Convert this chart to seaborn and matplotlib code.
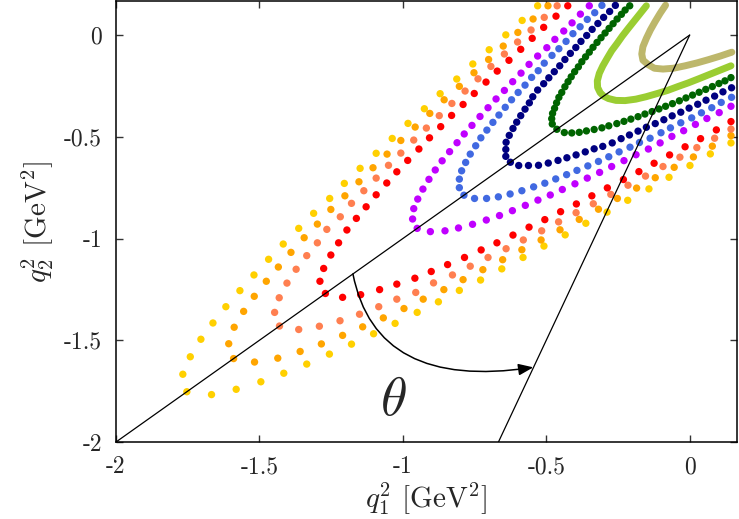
import numpy as np
import pandas as pd
import matplotlib
matplotlib.use("Agg")
import matplotlib.pyplot as plt
import seaborn as sns
from matplotlib.path import Path
from matplotlib.patches import FancyArrowPatch

# ---------------- data ----------------
# each curve: q1^2, q2^2 values from the upper-left end, through the vertex on the
# diagonal, to the lower-right end (the picture is symmetric under q1^2 <-> q2^2)
gold_q1 = [-0.530,-0.584,-0.641,-0.699,-0.756,-0.812,-0.870,-0.925,-0.982,-1.037,-1.093,-1.149,-1.204,-1.255,-1.311,-1.363,-1.417,-1.468,-1.519,-1.568,-1.617,-1.662,-1.704,-1.741,-1.767,
           -1.753,
           -1.667,-1.581,-1.495,-1.415,-1.335,-1.256,-1.179,-1.102,-1.027,-0.950,-0.876,-0.803,-0.729,-0.655,-0.581,-0.508,-0.434,-0.362,-0.288,-0.216,-0.142,-0.072,0.001,0.072,0.144]
gold_q2 = [0.144,0.072,0.001,-0.072,-0.142,-0.216,-0.288,-0.362,-0.434,-0.508,-0.581,-0.655,-0.729,-0.803,-0.876,-0.950,-1.027,-1.102,-1.179,-1.256,-1.335,-1.415,-1.495,-1.581,-1.667,
           -1.753,
           -1.767,-1.741,-1.704,-1.662,-1.617,-1.568,-1.519,-1.468,-1.417,-1.363,-1.311,-1.255,-1.204,-1.149,-1.093,-1.037,-0.982,-0.925,-0.870,-0.812,-0.756,-0.699,-0.641,-0.584,-0.530]

orange_q1 = [-0.494,-0.546,-0.599,-0.650,-0.701,-0.752,-0.803,-0.856,-0.906,-0.957,-1.007,-1.055,-1.104,-1.153,-1.202,-1.251,-1.298,-1.344,-1.390,-1.434,-1.476,-1.518,-1.555,-1.588,-1.607,
             -1.590,
             -1.517,-1.436,-1.358,-1.284,-1.210,-1.140,-1.068,-0.996,-0.929,-0.857,-0.790,-0.721,-0.652,-0.585,-0.518,-0.452,-0.385,-0.318,-0.252,-0.185,-0.120,-0.054,0.013,0.079,0.144]
orange_q2 = [0.144,0.079,0.013,-0.054,-0.120,-0.185,-0.252,-0.318,-0.385,-0.452,-0.518,-0.585,-0.652,-0.721,-0.790,-0.857,-0.929,-0.996,-1.068,-1.140,-1.210,-1.284,-1.358,-1.436,-1.517,
             -1.590,
             -1.607,-1.588,-1.555,-1.518,-1.476,-1.434,-1.390,-1.344,-1.298,-1.251,-1.202,-1.153,-1.104,-1.055,-1.007,-0.957,-0.906,-0.856,-0.803,-0.752,-0.701,-0.650,-0.599,-0.546,-0.494]

coral_q1 = [-0.462,-0.507,-0.553,-0.600,-0.646,-0.693,-0.738,-0.783,-0.829,-0.873,-0.918,-0.962,-1.007,-1.050,-1.093,-1.136,-1.179,-1.218,-1.265,-1.298,-1.335,-1.372,-1.404,-1.431,-1.447,
            -1.430,
            -1.363,-1.291,-1.219,-1.151,-1.084,-1.021,-0.955,-0.893,-0.827,-0.765,-0.703,-0.640,-0.580,-0.516,-0.457,-0.396,-0.336,-0.275,-0.215,-0.154,-0.093,-0.034,0.025,0.087,0.144]
coral_q2 = [0.144,0.087,0.025,-0.034,-0.093,-0.154,-0.215,-0.275,-0.336,-0.396,-0.457,-0.516,-0.580,-0.640,-0.703,-0.765,-0.827,-0.893,-0.955,-1.021,-1.084,-1.151,-1.219,-1.291,-1.363,
            -1.430,
            -1.447,-1.431,-1.404,-1.372,-1.335,-1.298,-1.265,-1.218,-1.179,-1.136,-1.093,-1.050,-1.007,-0.962,-0.918,-0.873,-0.829,-0.783,-0.738,-0.693,-0.646,-0.600,-0.553,-0.507,-0.462]

red_q1 = [-0.425,-0.466,-0.509,-0.549,-0.589,-0.630,-0.671,-0.710,-0.751,-0.790,-0.830,-0.868,-0.907,-0.944,-0.983,-1.021,-1.056,-1.093,-1.128,-1.162,-1.195,-1.224,-1.251,-1.276,-1.289,
          -1.270,
          -1.210,-1.147,-1.081,-1.021,-0.958,-0.901,-0.844,-0.785,-0.727,-0.672,-0.616,-0.560,-0.505,-0.450,-0.395,-0.341,-0.287,-0.231,-0.177,-0.124,-0.070,-0.016,0.038,0.093,0.144]
red_q2 = [0.144,0.093,0.038,-0.016,-0.070,-0.124,-0.177,-0.231,-0.287,-0.341,-0.395,-0.450,-0.505,-0.560,-0.616,-0.672,-0.727,-0.785,-0.844,-0.901,-0.958,-1.021,-1.081,-1.147,-1.210,
          -1.270,
          -1.289,-1.276,-1.251,-1.224,-1.195,-1.162,-1.128,-1.093,-1.056,-1.021,-0.983,-0.944,-0.907,-0.868,-0.830,-0.790,-0.751,-0.710,-0.671,-0.630,-0.589,-0.549,-0.509,-0.466,-0.425]

violet_q1 = [-0.350,-0.381,-0.410,-0.439,-0.470,-0.498,-0.530,-0.560,-0.588,-0.617,-0.646,-0.675,-0.703,-0.731,-0.759,-0.786,-0.811,-0.837,-0.863,-0.887,-0.909,-0.930,-0.948,-0.962,-0.966,
             -0.950,
             -0.904,-0.853,-0.806,-0.757,-0.709,-0.663,-0.618,-0.573,-0.529,-0.486,-0.444,-0.400,-0.357,-0.314,-0.272,-0.229,-0.187,-0.144,-0.103,-0.062,-0.021,0.020,0.060,0.103,0.144]
violet_q2 = [0.144,0.103,0.060,0.020,-0.021,-0.062,-0.103,-0.144,-0.187,-0.229,-0.272,-0.314,-0.357,-0.400,-0.444,-0.486,-0.529,-0.573,-0.618,-0.663,-0.709,-0.757,-0.806,-0.853,-0.904,
             -0.950,
             -0.966,-0.962,-0.948,-0.930,-0.909,-0.887,-0.863,-0.837,-0.811,-0.786,-0.759,-0.731,-0.703,-0.675,-0.646,-0.617,-0.588,-0.560,-0.530,-0.498,-0.470,-0.439,-0.410,-0.381,-0.350]

blue_q1 = [-0.306,-0.331,-0.357,-0.382,-0.407,-0.431,-0.456,-0.480,-0.507,-0.528,-0.551,-0.574,-0.598,-0.621,-0.643,-0.665,-0.686,-0.707,-0.728,-0.746,-0.765,-0.781,-0.795,-0.803,-0.803,
           -0.787,
           -0.750,-0.708,-0.667,-0.626,-0.585,-0.544,-0.505,-0.467,-0.429,-0.393,-0.355,-0.318,-0.282,-0.246,-0.208,-0.175,-0.138,-0.100,-0.067,-0.031,0.007,0.041,0.077,0.110,0.146]
blue_q2 = [0.146,0.110,0.077,0.041,0.007,-0.031,-0.067,-0.100,-0.138,-0.175,-0.208,-0.246,-0.282,-0.318,-0.355,-0.393,-0.429,-0.467,-0.505,-0.544,-0.585,-0.626,-0.667,-0.708,-0.750,
           -0.787,
           -0.803,-0.803,-0.795,-0.781,-0.765,-0.746,-0.728,-0.707,-0.686,-0.665,-0.643,-0.621,-0.598,-0.574,-0.551,-0.528,-0.507,-0.480,-0.456,-0.431,-0.407,-0.382,-0.357,-0.331,-0.306]

navy_q1 = [-0.259,-0.279,-0.300,-0.320,-0.340,-0.359,-0.379,-0.397,-0.416,-0.435,-0.453,-0.472,-0.491,-0.509,-0.530,-0.547,-0.559,-0.574,-0.589,-0.603,-0.616,-0.629,-0.640,-0.641,-0.641,
           -0.625,
           -0.596,-0.562,-0.527,-0.493,-0.459,-0.428,-0.396,-0.364,-0.333,-0.303,-0.270,-0.239,-0.210,-0.180,-0.151,-0.120,-0.090,-0.061,-0.031,-0.002,0.028,0.057,0.087,0.116,0.146]
navy_q2 = [0.146,0.116,0.087,0.057,0.028,-0.002,-0.031,-0.061,-0.090,-0.120,-0.151,-0.180,-0.210,-0.239,-0.270,-0.303,-0.333,-0.364,-0.396,-0.428,-0.459,-0.493,-0.527,-0.562,-0.596,
           -0.625,
           -0.641,-0.641,-0.640,-0.629,-0.616,-0.603,-0.589,-0.574,-0.559,-0.547,-0.530,-0.509,-0.491,-0.472,-0.453,-0.435,-0.416,-0.397,-0.379,-0.359,-0.340,-0.320,-0.300,-0.279,-0.259]

green_q1 = [-0.209,-0.225,-0.238,-0.253,-0.267,-0.281,-0.295,-0.309,-0.323,-0.337,-0.350,-0.363,-0.376,-0.388,-0.401,-0.413,-0.424,-0.435,-0.446,-0.456,-0.464,-0.471,-0.478,-0.481,-0.479,
            -0.463,
            -0.437,-0.411,-0.385,-0.360,-0.333,-0.306,-0.282,-0.254,-0.229,-0.205,-0.180,-0.156,-0.131,-0.107,-0.084,-0.060,-0.036,-0.013,0.010,0.033,0.056,0.079,0.102,0.123,0.144]
green_q2 = [0.144,0.123,0.102,0.079,0.056,0.033,0.010,-0.013,-0.036,-0.060,-0.084,-0.107,-0.131,-0.156,-0.180,-0.205,-0.229,-0.254,-0.282,-0.306,-0.333,-0.360,-0.385,-0.411,-0.437,
            -0.463,
            -0.479,-0.481,-0.478,-0.471,-0.464,-0.456,-0.446,-0.435,-0.424,-0.413,-0.401,-0.388,-0.376,-0.363,-0.350,-0.337,-0.323,-0.309,-0.295,-0.281,-0.267,-0.253,-0.238,-0.225,-0.209]

lime_q1 = [-0.151,-0.172,-0.193,-0.214,-0.235,-0.253,-0.272,-0.288,-0.303,-0.315,-0.322,-0.321,-0.312,
           -0.300,
           -0.283,-0.257,-0.225,-0.188,-0.152,-0.115,-0.077,-0.041,-0.005,0.033,0.070,0.107,0.144]
lime_q2 = [0.144,0.107,0.070,0.033,-0.005,-0.041,-0.077,-0.115,-0.152,-0.188,-0.225,-0.257,-0.283,
           -0.300,
           -0.312,-0.321,-0.322,-0.315,-0.303,-0.288,-0.272,-0.253,-0.235,-0.214,-0.193,-0.172,-0.151]

khaki_q1 = [-0.084,-0.103,-0.121,-0.137,-0.151,-0.163,-0.167,-0.163,
            -0.145,
            -0.123,-0.093,-0.057,-0.016,0.025,0.065,0.107,0.147]
khaki_q2 = [0.147,0.107,0.065,0.025,-0.016,-0.057,-0.093,-0.123,
            -0.145,
            -0.163,-0.167,-0.163,-0.151,-0.137,-0.121,-0.103,-0.084]

dotted_series = {
    "gold": (gold_q1, gold_q2),
    "orange": (orange_q1, orange_q2),
    "coral": (coral_q1, coral_q2),
    "red": (red_q1, red_q2),
    "violet": (violet_q1, violet_q2),
    "blue": (blue_q1, blue_q2),
    "navy": (navy_q1, navy_q2),
    "green": (green_q1, green_q2),
}
dense_series = {
    "lime": (lime_q1, lime_q2),
    "khaki": (khaki_q1, khaki_q2),
}
palette = {
    "gold": "#FFD000", "orange": "#FFA500", "coral": "#FF7F50", "red": "#FF0000",
    "violet": "#C000FF", "blue": "#4169E1", "navy": "#000080", "green": "#006400",
    "lime": "#9ACD32", "khaki": "#BDB76B",
}

# guide lines (q2^2 = q1^2 and q2^2 = 3 q1^2) and the theta arrow
line_a_q1 = [0.0, -2.0]; line_a_q2 = [0.0, -2.0]
line_b_q1 = [0.0, -2.0 / 3.0]; line_b_q2 = [0.0, -2.0]
arrow_pts = [(-1.174, -1.174), (-1.094, -1.749), (-0.545, -1.633)]
theta_pos = (-1.032, -1.80)

x_ticks = [-2, -1.5, -1, -0.5, 0]
x_ticklabels = ["-2", "-1.5", "-1", "-0.5", "0"]
y_ticks = [-2, -1.5, -1, -0.5, 0]
y_ticklabels = ["-2", "-1.5", "-1", "-0.5", "0"]

# ---------------- plotting ----------------
sns.set_style("ticks")
plt.rcParams["font.family"] = ["serif"]
plt.rcParams["font.serif"] = ["cmr10", "DejaVu Serif"]
plt.rcParams["mathtext.fontset"] = "cm"
plt.rcParams["axes.unicode_minus"] = False
plt.rcParams["axes.formatter.use_mathtext"] = True

W, H = 739, 519
fig = plt.figure(figsize=(W / 100, H / 100), dpi=100)
ax = fig.add_axes([116 / W, 1 - 442 / H, (737 - 116) / W, (442 - 0.7) / H])

dots = pd.concat(
    [pd.DataFrame({"q1": q1, "q2": q2, "series": name}) for name, (q1, q2) in dotted_series.items()],
    ignore_index=True,
)
dense = pd.concat(
    [pd.DataFrame({"q1": q1, "q2": q2, "series": name, "order": range(len(q1))}) for name, (q1, q2) in dense_series.items()],
    ignore_index=True,
)

sns.lineplot(data=dense, x="q1", y="q2", hue="series", units="series", estimator=None,
             sort=False, palette={k: palette[k] for k in dense_series}, linewidth=5.0,
             legend=False, ax=ax, solid_capstyle="round", zorder=2)
sns.scatterplot(data=dots, x="q1", y="q2", hue="series",
                palette={k: palette[k] for k in dotted_series}, s=28, linewidth=0,
                legend=False, ax=ax, zorder=3)

ax.plot(line_a_q1, line_a_q2, color="black", lw=0.9, zorder=5)
ax.plot(line_b_q1, line_b_q2, color="black", lw=0.9, zorder=5)

arrow_path = Path(arrow_pts, [Path.MOVETO, Path.CURVE3, Path.CURVE3])
arrow = FancyArrowPatch(path=arrow_path, arrowstyle="-|>,head_length=0.9,head_width=0.35",
                        mutation_scale=10, color="black", lw=1.1, zorder=6)
ax.add_patch(arrow)
ax.text(theta_pos[0], theta_pos[1], r"$\theta$", fontsize=39, ha="center", va="center", zorder=6)

ax.set_xlim(-2, 0.165)
ax.set_ylim(-2, 0.169)
ax.set_xticks(x_ticks)
ax.set_xticklabels(x_ticklabels)
ax.set_yticks(y_ticks)
ax.set_yticklabels(y_ticklabels)
ax.tick_params(direction="in", top=True, right=True, length=5, width=1.0,
               color="#333333", labelsize=17, pad=10)
for s in ax.spines.values():
    s.set_linewidth(1.1)
    s.set_color("black")

ax.set_xlabel(r"$q_1^2$ [GeV$^2$]", fontsize=21, labelpad=2)
ax.set_ylabel(r"$q_2^2$ [GeV$^2$]", fontsize=21, labelpad=6)

fig.savefig("out.png", dpi=100)
